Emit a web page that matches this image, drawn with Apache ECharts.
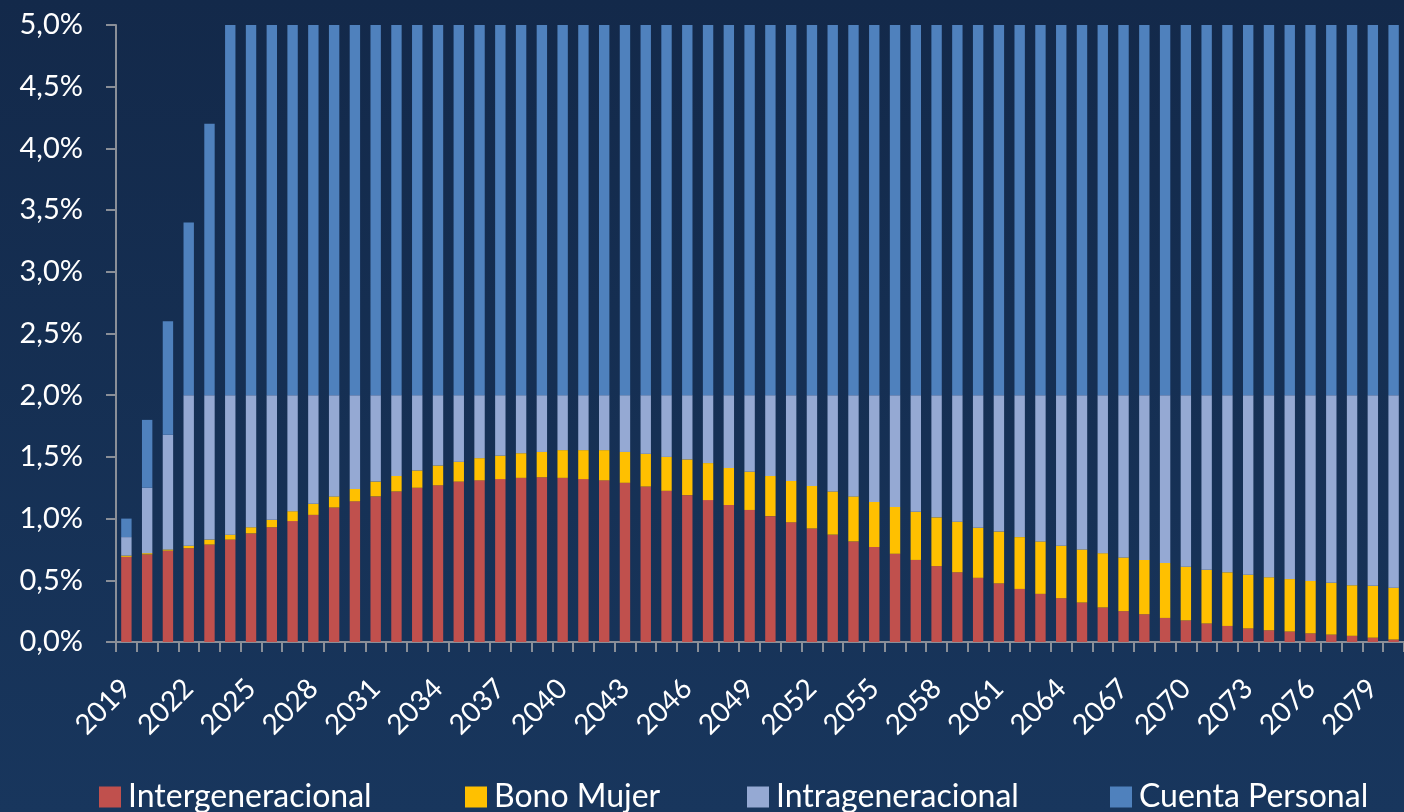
<!DOCTYPE html>
<head>
    <meta charset="utf-8">
    <title>Aportes</title>
    <script type="text/javascript" src="https://cdn.jsdelivr.net/npm/echarts@6/dist/echarts.min.js"></script>
    <style>
        html, body { margin: 0; padding: 0; }
        #main { width: 1404px; height: 812px; }
    </style>
</head>

<body>
<div id="main"></div>

<script type="text/javascript">

    // años 2019..2080
    var years = [];
    for (var y = 2019; y <= 2080; y++) years.push(String(y));

    // valores en %
    var intergeneracional = [
        0.69, 0.71, 0.74, 0.76, 0.79, 0.83, 0.88, 0.93, 0.98, 1.03,
        1.09, 1.14, 1.18, 1.22, 1.25, 1.27, 1.30, 1.31, 1.32, 1.33,
        1.335, 1.33, 1.32, 1.31, 1.29, 1.26, 1.225, 1.19, 1.15, 1.11,
        1.07, 1.02, 0.97, 0.92, 0.87, 0.815, 0.77, 0.715, 0.665, 0.615,
        0.565, 0.52, 0.475, 0.43, 0.39, 0.355, 0.32, 0.28, 0.25, 0.225,
        0.195, 0.175, 0.15, 0.13, 0.11, 0.095, 0.085, 0.07, 0.06, 0.05,
        0.035, 0.02
    ];
    var bonoMujer = [
        0.01, 0.01, 0.01, 0.02, 0.04, 0.04, 0.05, 0.06, 0.08, 0.09,
        0.09, 0.10, 0.12, 0.125, 0.14, 0.16, 0.16, 0.18, 0.19, 0.20,
        0.205, 0.225, 0.235, 0.245, 0.25, 0.265, 0.275, 0.29, 0.30, 0.30,
        0.31, 0.325, 0.335, 0.345, 0.35, 0.365, 0.365, 0.38, 0.39, 0.395,
        0.41, 0.405, 0.42, 0.42, 0.425, 0.425, 0.43, 0.44, 0.435, 0.44,
        0.445, 0.435, 0.435, 0.435, 0.435, 0.43, 0.425, 0.425, 0.42, 0.41,
        0.42, 0.42
    ];
    var intrageneracional = [
        0.15, 0.53, 0.93, 1.22, 1.17, 1.13, 1.07, 1.01, 0.94, 0.88,
        0.82, 0.76, 0.70, 0.655, 0.61, 0.57, 0.54, 0.51, 0.49, 0.47,
        0.46, 0.445, 0.445, 0.445, 0.46, 0.475, 0.50, 0.52, 0.55, 0.59,
        0.62, 0.655, 0.695, 0.735, 0.78, 0.82, 0.865, 0.905, 0.945, 0.99,
        1.025, 1.075, 1.105, 1.15, 1.185, 1.22, 1.25, 1.28, 1.315, 1.335,
        1.36, 1.39, 1.415, 1.435, 1.455, 1.475, 1.49, 1.505, 1.52, 1.54,
        1.545, 1.56
    ];
    var cuentaPersonal = [
        0.15, 0.55, 0.92, 1.40, 2.20, 3.0, 3.0, 3.0, 3.0, 3.0,
        3.0, 3.0, 3.0, 3.0, 3.0, 3.0, 3.0, 3.0, 3.0, 3.0,
        3.0, 3.0, 3.0, 3.0, 3.0, 3.0, 3.0, 3.0, 3.0, 3.0,
        3.0, 3.0, 3.0, 3.0, 3.0, 3.0, 3.0, 3.0, 3.0, 3.0,
        3.0, 3.0, 3.0, 3.0, 3.0, 3.0, 3.0, 3.0, 3.0, 3.0,
        3.0, 3.0, 3.0, 3.0, 3.0, 3.0, 3.0, 3.0, 3.0, 3.0,
        3.0, 3.0
    ];

    var names = ['Intergeneracional', 'Bono Mujer', 'Intrageneracional', 'Cuenta Personal'];
    var colors = ['#c0504d', '#ffc000', '#95a9d3', '#4f81bd'];
    var legendLeft = [94, 460, 742, 1105];

    var fontFam = 'Lato, "Open Sans", sans-serif';
    var axisGray = '#8a8f98';

    var myChart = echarts.init(document.getElementById('main'));

    var legends = [];
    for (var i = 0; i < names.length; i++) {
        legends.push({
            data: [names[i]],
            left: legendLeft[i],
            top: 776,
            icon: 'rect',
            itemWidth: 22,
            itemHeight: 21,
            itemGap: 0,
            selectedMode: false,
            textStyle: { color: '#ffffff', fontSize: 32, fontFamily: fontFam, padding: [0, 0, 0, 2] }
        });
    }

    var datos = [intergeneracional, bonoMujer, intrageneracional, cuentaPersonal];
    var series = [];
    for (var k = 0; k < names.length; k++) {
        series.push({
            name: names[k],
            type: 'bar',
            stack: 'total',
            barCategoryGap: '50%',
            itemStyle: { color: colors[k] },
            data: datos[k]
        });
    }

    var option = {
        backgroundColor: {
            type: 'linear', x: 0, y: 0, x2: 0, y2: 1,
            colorStops: [
                { offset: 0, color: '#13294a' },
                { offset: 1, color: '#18365d' }
            ]
        },
        animation: false,
        legend: legends,
        grid: {
            left: 116,
            top: 25,
            bottom: 170,
            width: 1302,
            containLabel: false
        },
        xAxis: [
            {
                type: 'category',
                data: years,
                axisLine: { lineStyle: { color: axisGray, width: 2 } },
                axisTick: { show: true, interval: 0, length: 10, lineStyle: { color: axisGray, width: 2 } },
                axisLabel: {
                    interval: 2,
                    rotate: 45,
                    margin: 42,
                    color: '#ffffff',
                    fontSize: 28,
                    fontFamily: fontFam
                }
            }
        ],
        yAxis: [
            {
                type: 'value',
                min: 0,
                max: 5,
                interval: 0.5,
                splitLine: { show: false },
                axisLine: { show: true, lineStyle: { color: axisGray, width: 2 } },
                axisTick: { show: true, length: 10, lineStyle: { color: axisGray, width: 2 } },
                axisLabel: {
                    margin: 33,
                    color: '#ffffff',
                    fontSize: 29,
                    fontFamily: fontFam,
                    formatter: function (v) {
                        return v.toFixed(1).replace('.', ',') + '%';
                    }
                }
            }
        ],
        series: series
    };

    myChart.setOption(option);

</script>
</body>
